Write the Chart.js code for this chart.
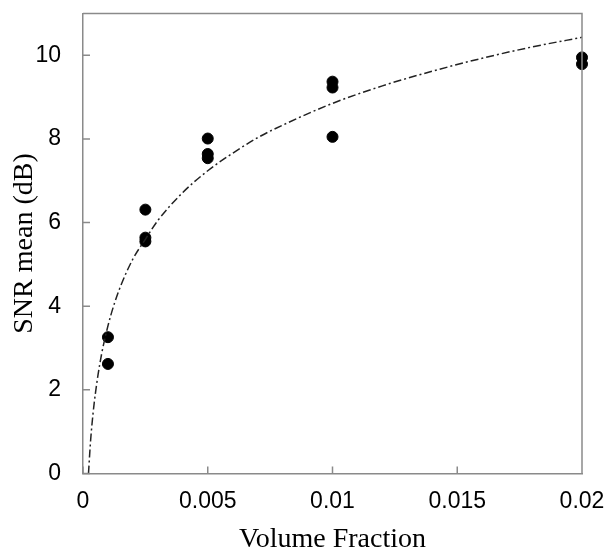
<!DOCTYPE html>
<html>
<head>
<meta charset="utf-8">
<script src="https://cdn.jsdelivr.net/npm/chart.js@4/dist/chart.umd.min.js"></script>
<style>
    html, body { margin: 0; padding: 0; background: #fff; }
    #wrap { width: 607px; height: 551px; position: relative; }
</style>
</head>
<body>
<div id="wrap"><canvas id="chart"></canvas></div>
<script>
// measured SNR values at each volume fraction
const measX = [0.001, 0.001, 0.0025, 0.0025, 0.0025, 0.005, 0.005, 0.005, 0.01, 0.01, 0.01, 0.02, 0.02];
const measY = [3.26, 2.62, 6.31, 5.64, 5.55, 8.01, 7.64, 7.54, 9.37, 9.23, 8.05, 9.95, 9.79];

// fitted trend line
const fitX = [0.00022, 0.0003, 0.0004, 0.0005, 0.0006, 0.00075, 0.001, 0.00125, 0.0015, 0.002, 0.0025,
    0.003, 0.004, 0.005, 0.006, 0.007, 0.008, 0.01, 0.012, 0.014, 0.016, 0.018, 0.02];
const fitY = [0.0, 0.75, 1.42, 1.93, 2.35, 2.87, 3.53, 4.05, 4.47, 5.13, 5.6,
    6.05, 6.72, 7.24, 7.66, 8.03, 8.33, 8.85, 9.27, 9.62, 9.93, 10.2, 10.43];

const xTicks = [0, 0.005, 0.01, 0.015, 0.02];
const xTickLabels = ["0", "0.005", "0.01", "0.015", "0.02"];
const yTicks = [0, 2, 4, 6, 8, 10];

const axisColor = "#8a8a8a";

// ticks point inward, plus the top/right sides of the box
const frame = {
    id: "frame",
    afterDraw(chart) {
        const { ctx, chartArea: a, scales } = chart;
        ctx.save();
        ctx.strokeStyle = axisColor;
        ctx.lineWidth = 1.5;
        ctx.beginPath();
        ctx.moveTo(a.left, a.top);
        ctx.lineTo(a.right, a.top);
        ctx.lineTo(a.right, a.bottom);
        yTicks.forEach(v => {
            const y = scales.y.getPixelForValue(v);
            ctx.moveTo(a.left, y);
            ctx.lineTo(a.left + 7, y);
        });
        xTicks.forEach(v => {
            const x = scales.x.getPixelForValue(v);
            ctx.moveTo(x, a.bottom);
            ctx.lineTo(x, a.bottom - 7);
        });
        ctx.stroke();
        ctx.restore();
    }
};

const config = {
    type: "scatter",
    data: {
        datasets: [
            {
                label: "Fit",
                data: fitX.map((x, i) => ({ x: x, y: fitY[i] })),
                showLine: true,
                borderColor: "#222",
                borderWidth: 1.5,
                borderDash: [8, 3, 2, 3],
                pointRadius: 0,
                cubicInterpolationMode: "monotone",
            },
            {
                label: "SNR mean",
                data: measX.map((x, i) => ({ x: x, y: measY[i] })),
                backgroundColor: "#000",
                borderColor: "#000",
                pointRadius: 5.5,
                clip: false,
            },
        ],
    },
    options: {
        responsive: true,
        maintainAspectRatio: false,
        animation: false,
        layout: { padding: { top: 13.5, right: 25, left: 0, bottom: 0 } },
        plugins: { legend: { display: false }, tooltip: { enabled: false } },
        scales: {
            x: {
                type: "linear",
                min: 0,
                max: 0.02,
                afterBuildTicks: s => { s.ticks = xTicks.map(v => ({ value: v })); },
                afterFit: s => {
                    s.height = 77.5;
                    s.paddingLeft = 0;
                    s.paddingRight = 0;
                },
                grid: { drawOnChartArea: false, drawTicks: false },
                border: { color: axisColor, width: 1.5 },
                ticks: {
                    padding: 14,
                    color: "#000",
                    font: { family: "Liberation Sans", size: 23 },
                    callback: (v, i) => xTickLabels[i],
                },
                title: {
                    display: true,
                    text: "Volume Fraction",
                    color: "#000",
                    padding: 0,
                    font: { family: "Liberation Serif", size: 28, lineHeight: 0.8 },
                },
            },
            y: {
                min: 0,
                max: 11,
                afterBuildTicks: s => { s.ticks = yTicks.map(v => ({ value: v })); },
                afterFit: s => {
                    s.width = 83;
                    s.paddingTop = 0;
                    s.paddingBottom = 0;
                },
                grid: { drawOnChartArea: false, drawTicks: false },
                border: { color: axisColor, width: 1.5 },
                ticks: {
                    padding: 22,
                    color: "#000",
                    font: { family: "Liberation Sans", size: 23 },
                },
                title: {
                    display: true,
                    text: "SNR mean (dB)",
                    color: "#000",
                    padding: { top: 8, bottom: 0 },
                    font: { family: "Liberation Serif", size: 28 },
                },
            },
        },
    },
    plugins: [frame],
};

new Chart(document.getElementById("chart").getContext("2d"), config);
</script>
</body>
</html>
